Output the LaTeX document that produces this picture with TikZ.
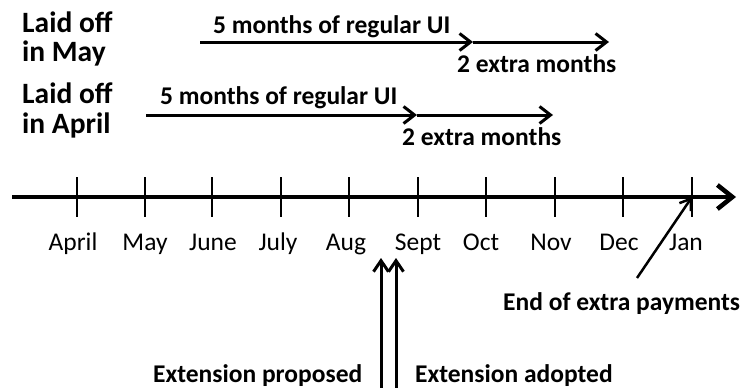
\documentclass[tikz,border=0pt]{standalone}
\usepackage{fontspec}
\setmainfont{Carlito}
\usetikzlibrary{arrows.meta}
\begin{document}
\begin{tikzpicture}[x=1pt,y=-1pt,
  txt/.style={inner sep=0pt,anchor=base west},
  rowlabel/.style={txt,font=\fontsize{29.5}{31}\selectfont\bfseries},
  boldlabel/.style={txt,font=\fontsize{25.5}{28}\selectfont\bfseries},
  month/.style={inner sep=0pt,anchor=base,font=\fontsize{25.5}{28}\selectfont},
  period/.style={line width=3pt,-{Straight Barb[length=11pt,width=17pt]}},
  event/.style={line width=3pt,-{Straight Barb[length=11pt,width=15pt]}},
  tick/.style={line width=2pt}]
\useasboundingbox (0,0) rectangle (742,388);

% timeline axis
\coordinate (axs) at (12,197);
\coordinate (axe) at (736,197);
\draw[line width=4.5pt,-{Straight Barb[length=15pt,width=24pt]}] (axs) -- (axe);

% month ticks and labels
\foreach \x/\m/\dx [count=\i] in {77/April/-4,145/May/0,212/June/1,281/July/-3,349/Aug/-3,
    418/Sept/0,486/Oct/-5,555/Nov/-4,623/Dec/-4,692/Jan/-6}{
  \coordinate (t\i) at (\x,197);
  \draw[tick] (\x,177) -- (\x,217);
  \node[month] (lab\i) at (\x+\dx,250) {\m};
}

% laid off in May
\node[rowlabel] (may1) at (22,32) {Laid off};
\node[rowlabel] (may2) at (22,61) {in May};
\coordinate (ma) at (200,42);
\coordinate (mb) at (473,42);
\coordinate (mc) at (609,42);
\draw[period] (ma) -- (mb);
\draw[period] (mb) -- (mc);
\node[boldlabel] (mayreg) at (213,33) {5 months of regular UI};
\node[boldlabel] (mayext) at (457,72) {2 extra months};

% laid off in April
\node[rowlabel] (apr1) at (22,103) {Laid off};
\node[rowlabel] (apr2) at (22,133) {in April};
\coordinate (aa) at (146,115);
\coordinate (ab) at (417,115);
\coordinate (ac) at (553,115);
\draw[period] (aa) -- (ab);
\draw[period] (ab) -- (ac);
\node[boldlabel] (aprreg) at (160,104) {5 months of regular UI};
\node[boldlabel] (aprext) at (402,145) {2 extra months};

% events
\coordinate (p0) at (381,390);
\coordinate (p1) at (381,258);
\coordinate (q0) at (396,390);
\coordinate (q1) at (396,258);
\draw[event] (p0) -- (p1);
\draw[event] (q0) -- (q1);
\node[boldlabel] (prop) at (153,382) {Extension proposed};
\node[boldlabel] (adop) at (415,382) {Extension adopted};

\coordinate (e0) at (637,278);
\draw[line width=2.5pt,-{Straight Barb[length=10pt,width=14pt]}] (e0) -- (t10);
\node[boldlabel] (endpay) at (503,310) {End of extra payments};
\end{tikzpicture}
\end{document}
